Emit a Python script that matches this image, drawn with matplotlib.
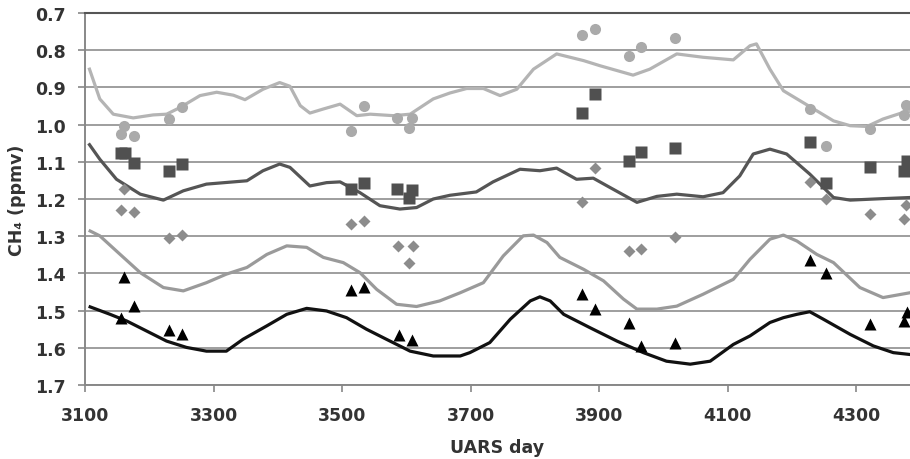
import matplotlib
matplotlib.use("Agg")
import matplotlib.pyplot as plt

# ---- observation series ----
circle_days = [3156, 3160, 3176, 3230, 3251, 3514, 3534, 3586, 3605, 3609,
               3873, 3894, 3946, 3965, 4019, 4229, 4253, 4322, 4374, 4378]
circle_vals = [1.025, 1.005, 1.030, 0.985, 0.952, 1.017, 0.949, 0.981, 1.009, 0.981,
               0.758, 0.743, 0.816, 0.791, 0.768, 0.958, 1.057, 1.012, 0.974, 0.946]

square_days = [3156, 3162, 3176, 3230, 3251, 3514, 3534, 3586, 3605, 3609,
               3873, 3894, 3946, 3965, 4019, 4229, 4253, 4322, 4374, 4379]
square_vals = [1.077, 1.075, 1.103, 1.126, 1.107, 1.172, 1.157, 1.172, 1.198, 1.177,
               0.970, 0.918, 1.098, 1.073, 1.063, 1.046, 1.158, 1.113, 1.125, 1.099]

diamond_days = [3161, 3156, 3177, 3230, 3251, 3514, 3534, 3587, 3610, 3605,
                3894, 3873, 3946, 3965, 4019, 4229, 4253, 4322, 4374, 4378]
diamond_vals = [1.173, 1.229, 1.236, 1.305, 1.296, 1.266, 1.259, 1.326, 1.326, 1.372,
                1.117, 1.207, 1.341, 1.335, 1.301, 1.155, 1.200, 1.241, 1.254, 1.216]

triangle_days = [3161, 3156, 3177, 3230, 3251, 3514, 3534, 3588, 3609,
                 3873, 3894, 3946, 3965, 4019, 4229, 4253, 4322, 4374, 4379]
triangle_vals = [1.411, 1.520, 1.487, 1.553, 1.562, 1.445, 1.436, 1.565, 1.578,
                 1.456, 1.496, 1.534, 1.595, 1.587, 1.364, 1.398, 1.537, 1.528, 1.505]

# ---- model lines ----
light_days = [3107, 3123, 3144, 3175, 3206, 3227, 3248, 3279, 3305, 3331, 3349, 3377,
              3403, 3419, 3435, 3450, 3471, 3497, 3523, 3544, 3580, 3606, 3642, 3668,
              3694, 3720, 3746, 3772, 3798, 3834, 3876, 3902, 3953, 3979, 4021, 4062,
              4109, 4135, 4145, 4166, 4187, 4213, 4239, 4265, 4291, 4317, 4342, 4374, 4384]
light_vals = [0.851, 0.931, 0.972, 0.982, 0.974, 0.972, 0.954, 0.922, 0.913, 0.921, 0.933, 0.905,
              0.887, 0.897, 0.949, 0.969, 0.958, 0.945, 0.976, 0.972, 0.976, 0.972, 0.931, 0.915,
              0.903, 0.903, 0.922, 0.905, 0.851, 0.810, 0.828, 0.842, 0.867, 0.851, 0.810, 0.819,
              0.826, 0.788, 0.783, 0.851, 0.909, 0.936, 0.963, 0.990, 1.003, 1.005, 0.985, 0.967, 0.965]

dark_days = [3107, 3123, 3149, 3186, 3222, 3253, 3289, 3331, 3352, 3377, 3403, 3419,
             3450, 3476, 3497, 3528, 3559, 3590, 3616, 3642, 3668, 3709, 3735, 3777,
             3808, 3834, 3865, 3891, 3917, 3959, 3990, 4021, 4062, 4093, 4119, 4140,
             4166, 4192, 4228, 4265, 4291, 4342, 4384]
dark_vals = [1.054, 1.093, 1.147, 1.187, 1.203, 1.178, 1.160, 1.154, 1.151, 1.124, 1.106, 1.115,
             1.165, 1.156, 1.154, 1.183, 1.218, 1.227, 1.223, 1.200, 1.190, 1.181, 1.154, 1.120,
             1.124, 1.117, 1.147, 1.144, 1.169, 1.209, 1.193, 1.187, 1.194, 1.183, 1.138, 1.079,
             1.066, 1.079, 1.133, 1.196, 1.203, 1.199, 1.196]

mid_days = [3108, 3123, 3149, 3186, 3222, 3253, 3289, 3320, 3352, 3383, 3414, 3445,
            3471, 3502, 3528, 3554, 3585, 3616, 3652, 3684, 3720, 3751, 3782, 3798,
            3819, 3839, 3876, 3907, 3938, 3959, 3990, 4021, 4062, 4109, 4135, 4166,
            4187, 4208, 4239, 4265, 4306, 4342, 4384]
mid_vals = [1.286, 1.299, 1.340, 1.398, 1.438, 1.447, 1.425, 1.402, 1.384, 1.349, 1.326, 1.330,
            1.357, 1.371, 1.398, 1.443, 1.483, 1.489, 1.474, 1.452, 1.425, 1.353, 1.299, 1.297,
            1.317, 1.357, 1.389, 1.420, 1.469, 1.496, 1.496, 1.488, 1.456, 1.416, 1.362, 1.308,
            1.297, 1.313, 1.349, 1.371, 1.438, 1.465, 1.452]

black_days = [3108, 3139, 3165, 3196, 3227, 3258, 3289, 3320, 3346, 3383, 3414, 3445,
              3476, 3507, 3538, 3569, 3606, 3642, 3684, 3699, 3730, 3762, 3793, 3808,
              3824, 3845, 3886, 3928, 3969, 4005, 4042, 4073, 4109, 4135, 4166, 4187,
              4208, 4228, 4249, 4291, 4327, 4358, 4384]
black_vals = [1.490, 1.510, 1.528, 1.555, 1.582, 1.599, 1.609, 1.609, 1.577, 1.541, 1.510, 1.494,
              1.501, 1.519, 1.550, 1.577, 1.609, 1.622, 1.622, 1.613, 1.586, 1.523, 1.474, 1.463,
              1.474, 1.510, 1.546, 1.582, 1.613, 1.636, 1.644, 1.636, 1.591, 1.568, 1.532, 1.519,
              1.510, 1.503, 1.523, 1.564, 1.595, 1.613, 1.618]

x_ticks = [3100, 3300, 3500, 3700, 3900, 4100, 4300]
y_ticks = [0.7, 0.8, 0.9, 1.0, 1.1, 1.2, 1.3, 1.4, 1.5, 1.6, 1.7]

fig = plt.figure(figsize=(9.1, 4.6), dpi=100)
ax = fig.add_axes([85 / 910, 1 - 386 / 460, 1 - 85 / 910, (386 - 14) / 460])

for y in y_ticks:
    ax.axhline(y, color="#9e9e9e", lw=1.4, zorder=1)

ax.plot(light_days, light_vals, color="#b4b4b4", lw=2.3, zorder=2)
ax.plot(dark_days, dark_vals, color="#555555", lw=2.3, zorder=2)
ax.plot(mid_days, mid_vals, color="#9a9a9a", lw=2.3, zorder=2)
ax.plot(black_days, black_vals, color="#111111", lw=2.3, zorder=2)

ax.plot(circle_days, circle_vals, "o", color="#aaaaaa", ms=8, mec="none", zorder=3)
ax.plot(square_days, square_vals, "s", color="#505050", ms=8, mec="none", zorder=3)
ax.plot(diamond_days, diamond_vals, "D", color="#8c8c8c", ms=6, mec="none", zorder=3)
ax.plot(triangle_days, triangle_vals, "^", color="#000000", ms=8, mec="none", zorder=3)

ax.set_xlim(3100, 4384)
ax.set_ylim(1.7, 0.7)
ax.set_xticks(x_ticks)
ax.set_yticks(y_ticks)
ax.set_yticklabels([f"{v:.1f}" for v in y_ticks])
ax.tick_params(axis="both", labelsize=12.5, labelcolor="#333333", length=5, width=1.2,
               direction="out", color="#888888")
ax.tick_params(axis="x", pad=10)
ax.tick_params(axis="y", pad=9)
for lab in ax.get_xticklabels() + ax.get_yticklabels():
    lab.set_fontweight("bold")

ax.spines["right"].set_visible(False)
ax.spines["top"].set_color("#555555")
ax.spines["top"].set_linewidth(1.5)
ax.spines["left"].set_color("#888888")
ax.spines["bottom"].set_color("#888888")
ax.spines["left"].set_linewidth(1.4)
ax.spines["bottom"].set_linewidth(1.4)

ax.set_xlabel("UARS day", fontsize=12.5, fontweight="bold", color="#333333", labelpad=10)
ax.set_ylabel("CH₄ (ppmv)", fontsize=12.5, fontweight="bold", color="#333333", labelpad=6)

fig.savefig("out.png", dpi=100)
